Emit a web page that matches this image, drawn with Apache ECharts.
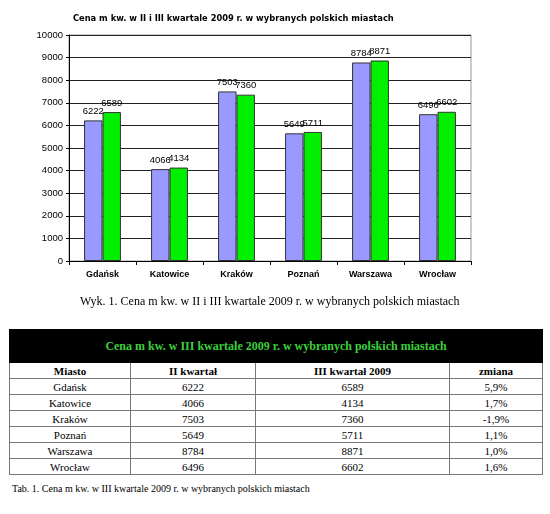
<!DOCTYPE html>
<html>
<head>
<meta charset="utf-8">
<script src="https://cdn.jsdelivr.net/npm/echarts@6/dist/echarts.min.js"></script>
<style>
    html, body { margin: 0; padding: 0; background: #fff; }
    #page { position: relative; width: 550px; height: 514px; overflow: hidden; }
    #chart { position: absolute; left: 0; top: 0; width: 550px; height: 320px; }
    #tab {
        position: absolute; left: 9px; top: 329px; width: 533px;
        border-collapse: collapse; table-layout: fixed;
        font-family: "Liberation Serif", "Times New Roman", serif; font-size: 11px; color: #000;
    }
    #tab td { border: 1px solid #777; padding: 0; text-align: center; height: 15px; line-height: 14px; }
    #tab tr.band td { background: #000; color: #3ccf3c; font-weight: bold; font-size: 12px; height: 32px; border-color: #000; }
    #tab tr.head td { font-weight: bold; }
    #tabCaption {
        position: absolute; left: 12px; top: 483px;
        font-family: "Liberation Serif", "Times New Roman", serif; font-size: 10px; color: #000;
    }
</style>
</head>
<body>
<div id="page">
    <div id="chart"></div>
    <table id="tab"></table>
    <div id="tabCaption"></div>
</div>
<script>
    'use strict';

    var cities = ['Gdańsk', 'Katowice', 'Kraków', 'Poznań', 'Warszawa', 'Wrocław'];
    var kwartal2 = [6222, 4066, 7503, 5649, 8784, 6496];
    var kwartal3 = [6589, 4134, 7360, 5711, 8871, 6602];
    var zmiana = ['5,9%', '1,7%', '-1,9%', '1,1%', '1,0%', '1,6%'];
    var tableHeader = ['Miasto', 'II kwartał', 'III kwartał 2009', 'zmiana'];

    var chartTitle = 'Cena m kw. w II i III kwartale 2009 r. w wybranych polskich miastach';
    var chartCaption = 'Wyk. 1. Cena m kw. w II i III kwartale 2009 r. w wybranych polskich miastach';
    var tableTitle = 'Cena m kw. w III kwartale 2009 r. w wybranych polskich miastach';
    var tableCaption = 'Tab. 1. Cena m kw. w III kwartale 2009 r. w wybranych polskich miastach';

    var sans = '"Liberation Sans", Arial, sans-serif';
    var serif = '"Liberation Serif", "Times New Roman", serif';

    var barLabel = {
        show: true,
        position: 'top',
        distance: 4,
        fontSize: 9.5,
        fontFamily: sans,
        color: '#000'
    };

    var myChart = echarts.init(document.getElementById('chart'), null, { renderer: 'canvas' });

    myChart.setOption({
        animation: false,
        backgroundColor: '#fff',
        title: [{
            text: chartTitle,
            left: 73,
            top: 15,
            padding: 0,
            textStyle: { fontFamily: '"DejaVu Sans", Verdana, sans-serif', fontWeight: 'bold', fontSize: 8.3, color: '#000' }
        }, {
            text: chartCaption,
            left: 80,
            top: 296,
            padding: 0,
            textStyle: { fontFamily: serif, fontWeight: 'normal', fontSize: 12, color: '#000' }
        }],
        grid: {
            left: 69,
            right: 79,
            top: 35,
            bottom: 59,
            show: true,
            borderColor: '#999',
            borderWidth: 1,
            backgroundColor: '#fff'
        },
        xAxis: {
            type: 'category',
            data: cities,
            axisLine: { lineStyle: { color: '#000', width: 1 } },
            axisTick: { show: true, length: 4, lineStyle: { color: '#000' } },
            axisLabel: { margin: 9, fontSize: 9, fontWeight: 'bold', fontFamily: sans, color: '#000' }
        },
        yAxis: {
            type: 'value',
            min: 0,
            max: 10000,
            interval: 1000,
            axisLine: { show: true, lineStyle: { color: '#000', width: 1 } },
            axisTick: { show: true, length: 3, lineStyle: { color: '#000' } },
            axisLabel: {
                margin: 6, fontSize: 9.5, fontFamily: sans, color: '#000',
                formatter: function(v) { return String(v); }
            },
            splitLine: { lineStyle: { color: '#222', width: 1 } }
        },
        series: [{
            name: 'II kwartał',
            type: 'bar',
            data: kwartal2,
            barGap: '0%',
            barCategoryGap: '45%',
            itemStyle: { color: '#9999ff', borderColor: '#333', borderWidth: 1 },
            label: barLabel
        }, {
            name: 'III kwartał 2009',
            type: 'bar',
            data: kwartal3,
            itemStyle: { color: '#00f000', borderColor: '#333', borderWidth: 1 },
            label: barLabel
        }]
    });

    // tabela pod wykresem
    var colWidths = [121, 125, 194, 93];
    var html = '<colgroup>';
    for (var c = 0; c < colWidths.length; c++) {
        html += '<col style="width:' + colWidths[c] + 'px">';
    }
    html += '</colgroup>';
    html += '<tr class="band"><td colspan="4">' + tableTitle + '</td></tr>';
    html += '<tr class="head">';
    for (var h = 0; h < tableHeader.length; h++) {
        html += '<td>' + tableHeader[h] + '</td>';
    }
    html += '</tr>';
    for (var i = 0; i < cities.length; i++) {
        html += '<tr><td>' + cities[i] + '</td><td>' + kwartal2[i] + '</td><td>' +
            kwartal3[i] + '</td><td>' + zmiana[i] + '</td></tr>';
    }
    document.getElementById('tab').innerHTML = html;
    document.getElementById('tabCaption').textContent = tableCaption;
</script>
</body>
</html>
